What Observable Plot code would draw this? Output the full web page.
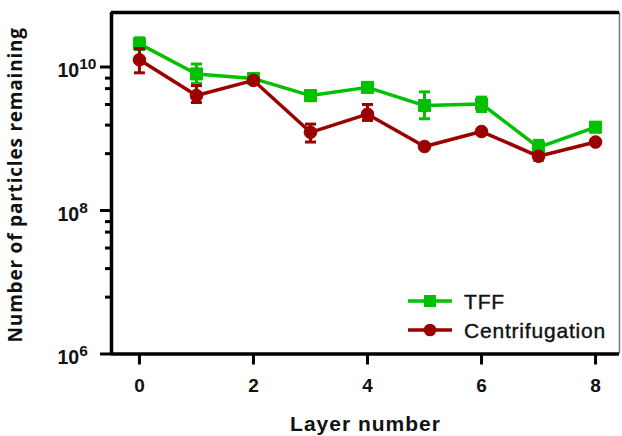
<!DOCTYPE html>
<html><head><meta charset="utf-8">
<script src="https://cdn.jsdelivr.net/npm/d3@7"></script>
<script src="https://cdn.jsdelivr.net/npm/@observablehq/plot@0.6"></script>
<style>
body{margin:0;background:#fff}
#wrap{position:relative;width:622px;height:436px}
#legend{position:absolute;left:0;top:0;pointer-events:none}
</style></head>
<body><div id="wrap"></div>
<script>
// ---- data ----
const layers = [0, 1, 2, 3, 4, 5, 6, 7, 8];
const tffMean  = [2.1e10, 8.0e9, 6.9e9, 4.0e9, 5.2e9, 2.9e9, 3.05e9, 7.6e8, 1.45e9];
const tffLow   = [1.75e10, 5.9e9, null, 3.4e9, 4.8e9, 1.9e9, 2.4e9, 5.0e8, null];
const tffHigh  = [2.55e10, 1.1e10, null, 4.7e9, 5.6e9, 4.5e9, 3.8e9, 9.5e8, null];
const centMean = [1.26e10, 4.0e9, 6.5e9, 1.23e9, 2.2e9, 7.8e8, 1.26e9, 5.7e8, 9.0e8];
const centLow  = [8.3e9, 3.2e9, null, 9.0e8, 1.8e9, null, null, null, null];
const centHigh = [1.8e10, 5.5e9, null, 1.6e9, 3.0e9, null, null, null, null];
const seriesNames = ["TFF", "Centrifugation"];
const xTicks = [0, 2, 4, 6, 8];
const yMajorTicks = [1e6, 1e8, 1e10];
const yMinorTicks = [7e9, 5e9, 3e9, 1.55e9, 6.2e8, 7e7, 5e7, 3e7, 1.55e7, 6.2e6];
const xTitle = "Layer number";
const yTitle = "Number of particles remaining";

const green = "#00c000", red = "#9a0000";
const xDomain = [-0.49, 8.42];
const yDomain = [1e6, 5.75e10];

const tff = layers.map((l, i) => ({layer: l, v: tffMean[i], lo: tffLow[i], hi: tffHigh[i]}));
const cent = layers.map((l, i) => ({layer: l, v: centMean[i], lo: centLow[i], hi: centHigh[i]}));
const tffErr = tff.filter(d => d.lo != null);
const centErr = cent.filter(d => d.lo != null);

const cap = {draw(ctx, size) { const w = Math.sqrt(size) / 2; ctx.moveTo(-w, 0); ctx.lineTo(w, 0); }};

function seriesMarks(rows, errs, color, symbol, r) {
  return [
    Plot.line(rows, {x: "layer", y: "v", stroke: color, strokeWidth: 3.5}),
    Plot.ruleX(errs, {x: "layer", y1: "lo", y2: "hi", stroke: color, strokeWidth: 3}),
    Plot.dot(errs, {x: "layer", y: "lo", symbol: cap, r: 6.2, stroke: color, strokeWidth: 3}),
    Plot.dot(errs, {x: "layer", y: "hi", symbol: cap, r: 6.2, stroke: color, strokeWidth: 3}),
    Plot.dot(rows, {x: "layer", y: "v", symbol, r, fill: color, stroke: color, strokeWidth: 1})
  ];
}

const chart = Plot.plot({
  width: 622, height: 436,
  marginLeft: 111, marginRight: 3, marginTop: 12, marginBottom: 82.5,
  style: {fontFamily: "'Liberation Sans', Arial, sans-serif", background: "#fff", overflow: "visible"},
  x: {domain: xDomain, axis: null},
  y: {type: "log", domain: yDomain, axis: null},
  marks: [
    Plot.ruleX([xDomain[1]], {stroke: "#777", strokeWidth: 1.5}),
    ...seriesMarks(tff, tffErr, green, "square", 6.8),
    ...seriesMarks(cent, centErr, red, "circle", 6.3),
    Plot.axisY(yMinorTicks, {tickSize: 6, text: null, strokeWidth: 3, stroke: "#000"}),
    Plot.axisY(yMajorTicks, {tickSize: 11, text: null, strokeWidth: 3, stroke: "#000"}),
    Plot.axisX(xTicks, {tickSize: 11, tickPadding: 13, strokeWidth: 3, stroke: "#000",
      fontSize: 19, fontWeight: "bold", fill: "#111", label: null}),
    Plot.ruleY([yDomain[0]], {stroke: "#000", strokeWidth: 3.5}),
    Plot.ruleY([yDomain[1]], {stroke: "#000", strokeWidth: 3.5}),
    Plot.ruleX([xDomain[0]], {stroke: "#000", strokeWidth: 3.5}),
    Plot.text(yMajorTicks, {y: d => d, text: d => "10^" + Math.round(Math.log10(d)),
      frameAnchor: "left", dx: -54, dy: 4, textAnchor: "start",
      fontSize: 19.5, fontWeight: "bold", fill: "#111"}),
    Plot.text([xTitle], {frameAnchor: "bottom", dy: 77, textAnchor: "middle", fontSize: 21, fontWeight: "bold", fill: "#111"}),
    Plot.text([yTitle], {frameAnchor: "left", dx: -96, dy: 1.5, rotate: -90, textAnchor: "middle",
      lineAnchor: "middle", fontSize: 19, fontWeight: "bold", fill: "#111",
      fontFamily: "'Open Sans', sans-serif"})
  ]
});

const ns = "http://www.w3.org/2000/svg";
// superscript exponents on y tick labels
chart.querySelectorAll("text").forEach(t => {
  if (!t.textContent.includes("^")) return;
  const [b, e] = t.textContent.split("^");
  t.textContent = "";
  const t1 = document.createElementNS(ns, "tspan"); t1.textContent = b;
  const t2 = document.createElementNS(ns, "tspan"); t2.textContent = e;
  t2.setAttribute("dy", "-8"); t2.setAttribute("font-size", "15.5");
  t.append(t1, t2);
});
// letter spacing for titles
chart.querySelectorAll("text").forEach(t => {
  if (t.textContent === xTitle) t.setAttribute("letter-spacing", "1");
  if (t.textContent === yTitle) t.setAttribute("letter-spacing", "0.8");
});

const wrap = document.getElementById("wrap");
wrap.append(chart);

// legend overlay
const lg = document.createElementNS(ns, "svg");
lg.setAttribute("id", "legend"); lg.setAttribute("width", 622); lg.setAttribute("height", 436);
const items = [
  {name: seriesNames[0], color: green, sym: "square", y: 301},
  {name: seriesNames[1], color: red, sym: "circle", y: 330}
];
items.forEach(it => {
  const l = document.createElementNS(ns, "line");
  l.setAttribute("x1", 408); l.setAttribute("x2", 452); l.setAttribute("y1", it.y); l.setAttribute("y2", it.y);
  l.setAttribute("stroke", it.color); l.setAttribute("stroke-width", 3.5);
  lg.append(l);
  let m;
  if (it.sym === "square") {
    m = document.createElementNS(ns, "rect");
    m.setAttribute("x", 424); m.setAttribute("y", it.y - 6); m.setAttribute("width", 12); m.setAttribute("height", 12);
  } else {
    m = document.createElementNS(ns, "circle");
    m.setAttribute("cx", 430); m.setAttribute("cy", it.y); m.setAttribute("r", 6.3);
  }
  m.setAttribute("fill", it.color);
  lg.append(m);
  const tx = document.createElementNS(ns, "text");
  tx.setAttribute("x", 464); tx.setAttribute("y", it.y + 7.5);
  tx.setAttribute("font-family", "'Liberation Sans', Arial, sans-serif");
  tx.setAttribute("font-size", 21); tx.setAttribute("fill", "#111");
  tx.setAttribute("stroke", "#111"); tx.setAttribute("stroke-width", 0.4);
  tx.setAttribute("letter-spacing", "0.8");
  tx.textContent = it.name;
  lg.append(tx);
});
wrap.append(lg);
</script>
</body></html>
